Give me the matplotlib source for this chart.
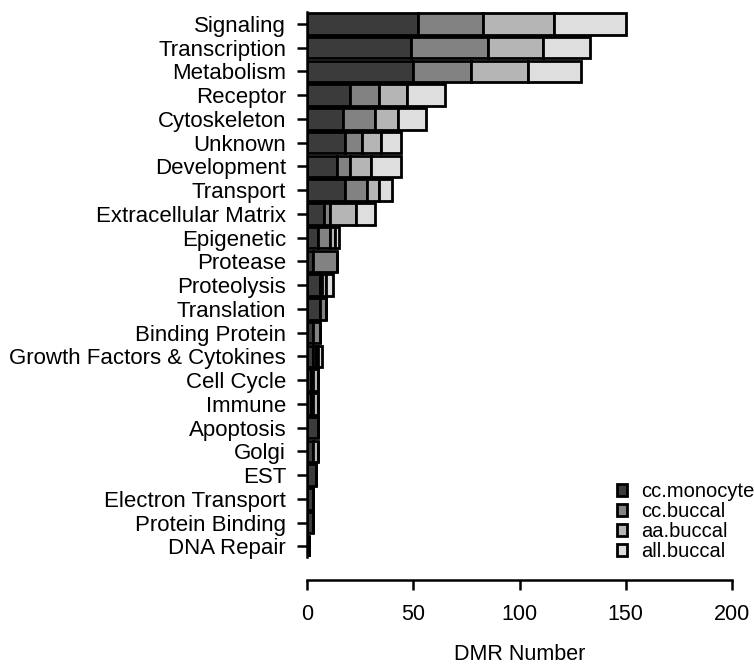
import matplotlib
matplotlib.use("Agg")
import matplotlib.pyplot as plt
from matplotlib.patches import Patch
import numpy as np

plt.rcParams['font.family'] = ['Liberation Sans', 'DejaVu Sans']

categories = ["Signaling", "Transcription", "Metabolism", "Receptor", "Cytoskeleton",
              "Unknown", "Development", "Transport", "Extracellular Matrix", "Epigenetic",
              "Protease", "Proteolysis", "Translation", "Binding Protein",
              "Growth Factors & Cytokines", "Cell Cycle", "Immune", "Apoptosis", "Golgi",
              "EST", "Electron Transport", "Protein Binding", "DNA Repair"]
series_names = ["cc.monocyte", "cc.buccal", "aa.buccal", "all.buccal"]
cc_monocyte = [52, 49, 50, 20, 17, 18, 14, 18, 8, 5, 3, 6, 6, 3, 3, 2, 2, 5, 3, 4, 3, 3, 1]
cc_buccal   = [31, 36, 27, 14, 15, 8, 6, 10, 3, 6, 11, 1, 3, 3, 1, 1, 1, 0, 0, 0, 0, 0, 0]
aa_buccal   = [33, 26, 27, 13, 11, 9, 10, 6, 12, 2, 0, 2, 0, 0, 1, 2, 2, 0, 2, 0, 0, 0, 0]
all_buccal  = [34, 22, 25, 18, 13, 9, 14, 6, 9, 2, 0, 3, 0, 0, 2, 0, 0, 0, 0, 0, 0, 0, 0]
colors = ["#3b3b3b", "#828282", "#b5b5b5", "#dedede"]
x_ticks = [0, 50, 100, 150, 200]

fig = plt.figure(figsize=(7.54, 6.65), dpi=100)
ax = fig.add_axes([307/754, 1 - 557/665, 425/754, 545/665])

y = np.arange(len(categories))
left = np.zeros(len(categories))
for vals, c in zip([cc_monocyte, cc_buccal, aa_buccal, all_buccal], colors):
    v = np.array(vals, dtype=float)
    ax.barh(y, v, left=left, height=0.9, color=c, edgecolor='black', linewidth=2.0)
    left += v

ax.set_ylim(len(categories) - 0.55, -0.5)
ax.set_xlim(0, 200)
ax.set_yticks(y)
ax.set_yticklabels(categories)
ax.set_xticks(x_ticks)
ax.set_xticklabels([str(t) for t in x_ticks])
ax.set_xlabel("DMR Number", fontsize=15.5, labelpad=14)

for s in ['top', 'right']:
    ax.spines[s].set_visible(False)
ax.spines['left'].set_linewidth(1.8)
ax.spines['bottom'].set_linewidth(1.8)
ax.spines['bottom'].set_position(('outward', 16.5))
ax.spines['bottom'].set_bounds(0, 200)
ax.tick_params(axis='y', length=7, width=1.8, pad=8, labelsize=16)
ax.tick_params(axis='x', length=7, width=1.8, pad=10, labelsize=15.5)

handles = [Patch(facecolor=c, edgecolor='black', linewidth=2.0) for c in colors]
fig.legend(handles, series_names, loc='upper left', bbox_to_anchor=(609/754, 1 - 474/665),
           frameon=False, fontsize=14.5, handlelength=0.5, handleheight=0.5,
           handletextpad=0.7, labelspacing=0.05, borderaxespad=0)

fig.savefig("out.png", dpi=100)
